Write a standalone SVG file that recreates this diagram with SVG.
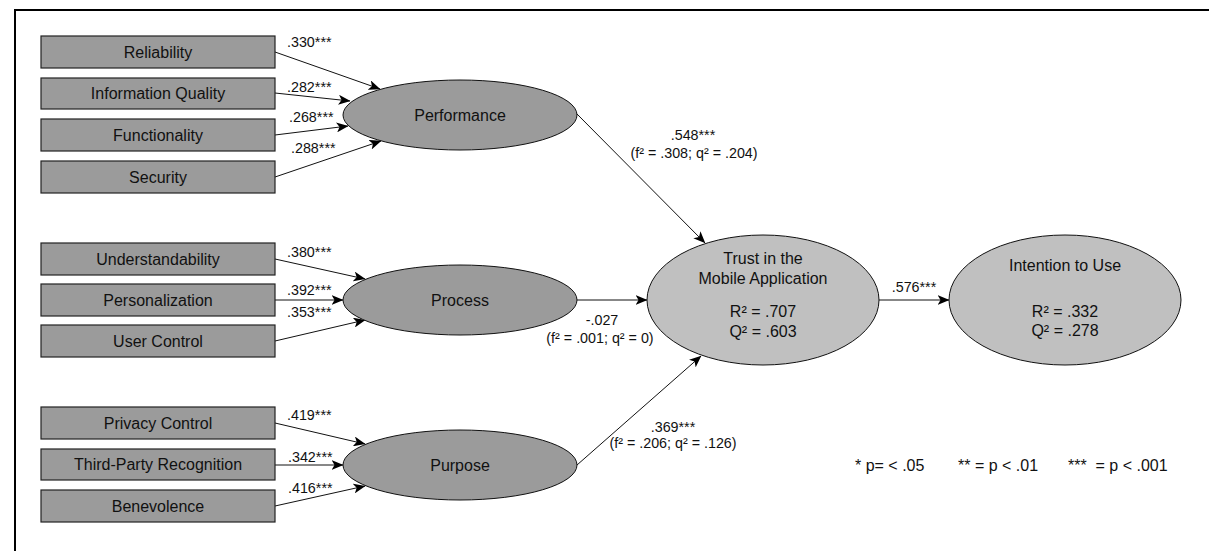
<svg xmlns="http://www.w3.org/2000/svg" width="1209" height="551" viewBox="0 0 1209 551">
<defs>
<marker id="arr" viewBox="0 0 12 10" refX="11.5" refY="5" markerWidth="12" markerHeight="10" markerUnits="userSpaceOnUse" orient="auto">
<path d="M0,0 L12,5 L0,10 L3,5 z" fill="#000"/>
</marker>
<style>
text{font-family:"Liberation Sans",Arial,sans-serif;fill:#111}
.box rect{fill:#9b9b9b;stroke:#222;stroke-width:1.2}
.box text{font-size:16px;text-anchor:middle}
.lat ellipse{fill:#9b9b9b;stroke:#111;stroke-width:1}
.end ellipse{fill:#c0c0c0;stroke:#111;stroke-width:1}
.lat text,.end text{font-size:16px;text-anchor:middle}
#connectors line{stroke:#111;stroke-width:1;marker-end:url(#arr)}
.lbl{font-size:14.3px}
.mid{text-anchor:middle}
.leg{font-size:16px}
</style>
</defs>
<rect x="15" y="10" width="1210" height="560" fill="none" stroke="#000" stroke-width="2"/>

<g id="connectors">
<line x1="275" y1="52" x2="380" y2="89"/>
<line x1="275" y1="93" x2="350" y2="101"/>
<line x1="275" y1="135" x2="348" y2="126"/>
<line x1="275" y1="177" x2="381" y2="141"/>
<line x1="275" y1="259" x2="365" y2="279"/>
<line x1="275" y1="300" x2="343" y2="300"/>
<line x1="275" y1="341" x2="365" y2="320"/>
<line x1="275" y1="423" x2="365" y2="444"/>
<line x1="275" y1="465" x2="343" y2="465"/>
<line x1="275" y1="506" x2="365" y2="486"/>
<line x1="577" y1="114" x2="705" y2="243"/>
<line x1="577" y1="300" x2="647" y2="300"/>
<line x1="577" y1="465" x2="701" y2="356"/>
<line x1="879" y1="300" x2="949" y2="300"/>
<text class="lbl" x="287" y="47">.330***</text>
<text class="lbl" x="287" y="92">.282***</text>
<text class="lbl" x="289" y="122">.268***</text>
<text class="lbl" x="291" y="153">.288***</text>
<text class="lbl" x="287" y="257">.380***</text>
<text class="lbl" x="287" y="295">.392***</text>
<text class="lbl" x="287" y="317">.353***</text>
<text class="lbl" x="287" y="420">.419***</text>
<text class="lbl" x="288" y="462">.342***</text>
<text class="lbl" x="288" y="493">.416***</text>
<text class="lbl mid" x="693" y="140">.548***</text>
<text class="lbl mid" x="694" y="158">(f² = .308; q² = .204)</text>
<text class="lbl mid" x="602" y="325">-.027</text>
<text class="lbl mid" x="600" y="343">(f² = .001; q² = 0)</text>
<text class="lbl mid" x="673" y="432">.369***</text>
<text class="lbl mid" x="673" y="448">(f² = .206; q² = .126)</text>
<text class="lbl mid" x="914" y="292">.576***</text>
</g>

<g id="reliability" class="box"><rect x="41" y="36" width="234" height="32"/><text x="158" y="58">Reliability</text></g>
<g id="information-quality" class="box"><rect x="41" y="78" width="234" height="31"/><text x="158" y="99">Information Quality</text></g>
<g id="functionality" class="box"><rect x="41" y="119" width="234" height="32"/><text x="158" y="141">Functionality</text></g>
<g id="security" class="box"><rect x="41" y="161" width="234" height="32"/><text x="158" y="183">Security</text></g>

<g id="understandability" class="box"><rect x="41" y="243" width="234" height="32"/><text x="158" y="265">Understandability</text></g>
<g id="personalization" class="box"><rect x="41" y="284" width="234" height="32"/><text x="158" y="306">Personalization</text></g>
<g id="user-control" class="box"><rect x="41" y="325" width="234" height="32"/><text x="158" y="347">User Control</text></g>

<g id="privacy-control" class="box"><rect x="41" y="407" width="234" height="32"/><text x="158" y="429">Privacy Control</text></g>
<g id="third-party-recognition" class="box"><rect x="41" y="449" width="234" height="31"/><text x="158" y="470">Third-Party Recognition</text></g>
<g id="benevolence" class="box"><rect x="41" y="490" width="234" height="32"/><text x="158" y="512">Benevolence</text></g>

<g id="performance" class="lat"><ellipse cx="460" cy="115" rx="117" ry="35"/><text x="460" y="121">Performance</text></g>
<g id="process" class="lat"><ellipse cx="460" cy="300" rx="117" ry="35"/><text x="460" y="306">Process</text></g>
<g id="purpose" class="lat"><ellipse cx="460" cy="465" rx="117" ry="35"/><text x="460" y="471">Purpose</text></g>

<g id="trust" class="end"><ellipse cx="763" cy="300" rx="116" ry="65"/>
<text x="763" y="264">Trust in the</text>
<text x="763" y="284">Mobile Application</text>
<text x="763" y="317">R² = .707</text>
<text x="763" y="337">Q² = .603</text></g>

<g id="intention" class="end"><ellipse cx="1065" cy="300" rx="116" ry="65"/>
<text x="1065" y="271">Intention to Use</text>
<text x="1065" y="317">R² = .332</text>
<text x="1065" y="336">Q² = .278</text></g>

<g id="legend">
<text class="leg" x="855" y="471">* p= &lt; .05</text>
<text class="leg" x="958" y="471">** = p &lt; .01</text>
<text class="leg" x="1068" y="471">***&#160; = p &lt; .001</text>
</g>
</svg>
